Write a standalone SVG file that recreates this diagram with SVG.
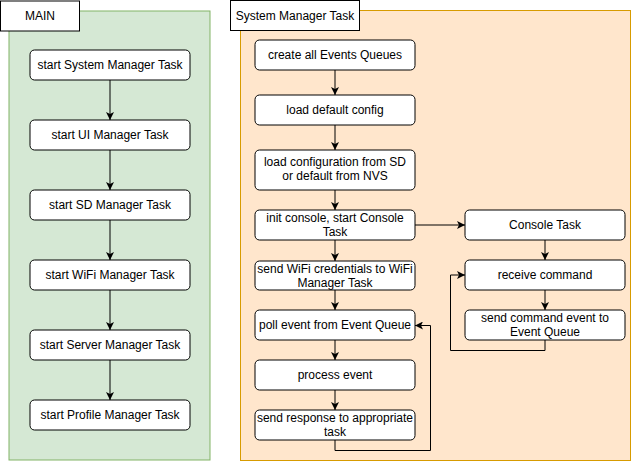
<svg xmlns="http://www.w3.org/2000/svg" width="632" height="462" viewBox="0 0 632 462">
<style>
.node rect{fill:#fff;stroke:#000;stroke-width:1}
text{font-family:"Liberation Sans",Arial,sans-serif;font-size:12px;fill:#000;text-anchor:middle}
.edge{fill:none;stroke:#000;stroke-width:1}
</style>
<defs>
<marker id="ah" viewBox="0 0 8 8" refX="8" refY="4" markerWidth="8" markerHeight="8" markerUnits="userSpaceOnUse" orient="auto">
<path d="M0,0 L8,4 L0,8 L2,4 Z" fill="#000"/>
</marker>
</defs>
<rect x="0" y="0" width="632" height="462" fill="#fff"/>
<g id="main-container">
<rect x="9" y="11" width="201" height="449" fill="#d5e8d4" stroke="#82b366"/>
<rect x="0.5" y="1" width="79" height="30" fill="#fff" stroke="#000"/>
<text x="40" y="20">MAIN</text>
</g>
<g id="sys-container">
<rect x="240.5" y="10.5" width="390" height="450" fill="#ffe6cc" stroke="#d79b00"/>
<rect x="230.5" y="0.5" width="129" height="30" fill="#fff" stroke="#000"/>
<text x="295" y="19.5">System Manager Task</text>
</g>
<g id="connectors">
<path class="edge" d="M110,80 V120" marker-end="url(#ah)"/>
<path class="edge" d="M110,150 V190" marker-end="url(#ah)"/>
<path class="edge" d="M110,220 V260" marker-end="url(#ah)"/>
<path class="edge" d="M110,290 V330" marker-end="url(#ah)"/>
<path class="edge" d="M110,360 V400" marker-end="url(#ah)"/>
<path class="edge" d="M335,70 V95" marker-end="url(#ah)"/>
<path class="edge" d="M335,125 V150" marker-end="url(#ah)"/>
<path class="edge" d="M335,190 V210" marker-end="url(#ah)"/>
<path class="edge" d="M335,240 V261" marker-end="url(#ah)"/>
<path class="edge" d="M335,290 V310" marker-end="url(#ah)"/>
<path class="edge" d="M335,340 V360" marker-end="url(#ah)"/>
<path class="edge" d="M335,390 V410" marker-end="url(#ah)"/>
<path class="edge" d="M335,440 V450.5 H430.5 V325.5 H415" marker-end="url(#ah)"/>
<path class="edge" d="M415,225 H465" marker-end="url(#ah)"/>
<path class="edge" d="M545,240 V260" marker-end="url(#ah)"/>
<path class="edge" d="M545,290 V310" marker-end="url(#ah)"/>
<path class="edge" d="M545,340 V350.5 H450.5 V275 H465" marker-end="url(#ah)"/>
</g>
<g id="n-start-sys" class="node"><rect x="30" y="50" width="160" height="30" rx="4.5"/><text x="110" y="69">start System Manager Task</text></g>
<g id="n-start-ui" class="node"><rect x="30" y="120" width="160" height="30" rx="4.5"/><text x="110" y="139">start UI Manager Task</text></g>
<g id="n-start-sd" class="node"><rect x="30" y="190" width="160" height="30" rx="4.5"/><text x="110" y="209">start SD Manager Task</text></g>
<g id="n-start-wifi" class="node"><rect x="30" y="260" width="160" height="30" rx="4.5"/><text x="110" y="279">start WiFi Manager Task</text></g>
<g id="n-start-server" class="node"><rect x="30" y="330" width="160" height="30" rx="4.5"/><text x="110" y="349">start Server Manager Task</text></g>
<g id="n-start-profile" class="node"><rect x="30" y="400" width="160" height="30" rx="4.5"/><text x="110" y="419">start Profile Manager Task</text></g>
<g id="n-create-queues" class="node"><rect x="255" y="40" width="160" height="30" rx="4.5"/><text x="335" y="59">create all Events Queues</text></g>
<g id="n-load-default" class="node"><rect x="255" y="95" width="160" height="30" rx="4.5"/><text x="335" y="114">load default config</text></g>
<g id="n-load-config" class="node"><rect x="255" y="150" width="160" height="40" rx="4.5"/><text x="335" y="166">load configuration from SD</text><text x="335" y="180">or default from NVS</text></g>
<g id="n-init-console" class="node"><rect x="255" y="210" width="160" height="30" rx="4.5"/><text x="335" y="222">init console, start Console</text><text x="335" y="236">Task</text></g>
<g id="n-send-wifi" class="node"><rect x="255" y="261" width="160" height="29" rx="4.5"/><text x="335" y="273">send WiFi credentials to WiFi</text><text x="335" y="287">Manager Task</text></g>
<g id="n-poll" class="node"><rect x="255" y="310" width="160" height="30" rx="4.5"/><text x="335" y="329">poll event from Event Queue</text></g>
<g id="n-process" class="node"><rect x="255" y="360" width="160" height="30" rx="4.5"/><text x="335" y="379">process event</text></g>
<g id="n-send-response" class="node"><rect x="255" y="410" width="160" height="30" rx="4.5"/><text x="335" y="422">send response to appropriate</text><text x="335" y="436">task</text></g>
<g id="n-console-task" class="node"><rect x="465" y="210" width="160" height="30" rx="4.5"/><text x="545" y="229">Console Task</text></g>
<g id="n-receive" class="node"><rect x="465" y="260" width="160" height="30" rx="4.5"/><text x="545" y="279">receive command</text></g>
<g id="n-send-cmd" class="node"><rect x="465" y="310" width="160" height="30" rx="4.5"/><text x="545" y="322">send command event to</text><text x="545" y="336">Event Queue</text></g>
</svg>
